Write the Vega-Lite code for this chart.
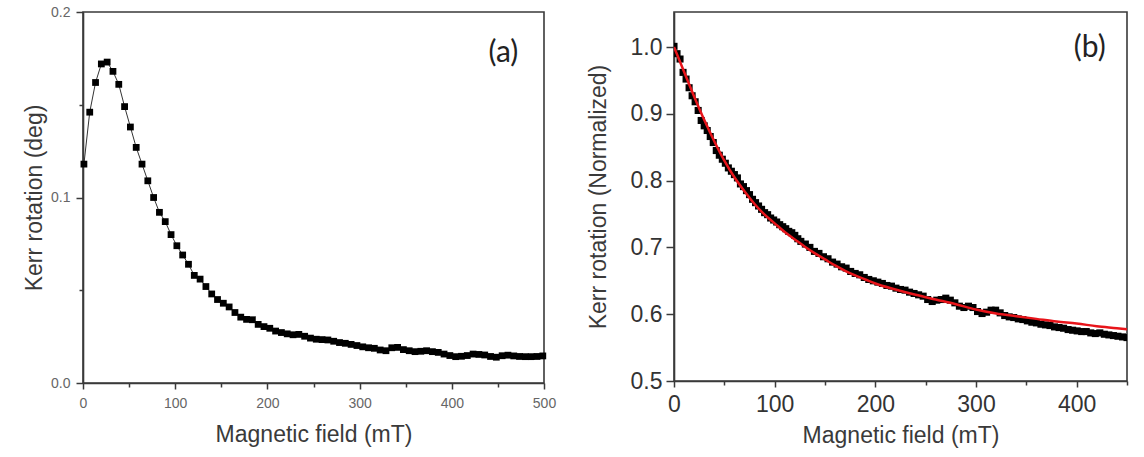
{
  "$schema": "https://vega.github.io/schema/vega-lite/v6.json",
  "padding": {"left": 22, "top": 4, "right": 6, "bottom": 6},
  "background": "white",
  "datasets": {
    "kerr_deg": [
      {"field": 1, "kerr": 0.118}, {"field": 7.3, "kerr": 0.146}, {"field": 13.6, "kerr": 0.162}, {"field": 19.9, "kerr": 0.172},
      {"field": 26.2, "kerr": 0.173}, {"field": 32.5, "kerr": 0.168}, {"field": 38.8, "kerr": 0.161}, {"field": 45.1, "kerr": 0.149},
      {"field": 51.4, "kerr": 0.138}, {"field": 57.7, "kerr": 0.127}, {"field": 64, "kerr": 0.118}, {"field": 70.3, "kerr": 0.109},
      {"field": 76.6, "kerr": 0.1}, {"field": 82.9, "kerr": 0.092}, {"field": 89.2, "kerr": 0.087}, {"field": 95.5, "kerr": 0.08},
      {"field": 101.8, "kerr": 0.074}, {"field": 108.1, "kerr": 0.069}, {"field": 114.4, "kerr": 0.064}, {"field": 120.7, "kerr": 0.058},
      {"field": 127, "kerr": 0.056}, {"field": 133.3, "kerr": 0.052}, {"field": 139.6, "kerr": 0.048}, {"field": 145.9, "kerr": 0.045},
      {"field": 152.2, "kerr": 0.043}, {"field": 158.5, "kerr": 0.041}, {"field": 164.8, "kerr": 0.038}, {"field": 171.1, "kerr": 0.0355},
      {"field": 177.4, "kerr": 0.0343}, {"field": 183.7, "kerr": 0.0341}, {"field": 190, "kerr": 0.0316}, {"field": 196.3, "kerr": 0.0304},
      {"field": 202.6, "kerr": 0.0295}, {"field": 208.9, "kerr": 0.028}, {"field": 215.2, "kerr": 0.0272}, {"field": 221.5, "kerr": 0.0265},
      {"field": 227.8, "kerr": 0.026}, {"field": 234.1, "kerr": 0.0262}, {"field": 240.4, "kerr": 0.0252}, {"field": 246.7, "kerr": 0.0242},
      {"field": 253, "kerr": 0.0236}, {"field": 259.3, "kerr": 0.0234}, {"field": 265.6, "kerr": 0.0232}, {"field": 271.9, "kerr": 0.0225},
      {"field": 278.2, "kerr": 0.0218}, {"field": 284.5, "kerr": 0.0214}, {"field": 290.8, "kerr": 0.0208}, {"field": 297.1, "kerr": 0.0202},
      {"field": 303.4, "kerr": 0.0195}, {"field": 309.7, "kerr": 0.019}, {"field": 316, "kerr": 0.0187}, {"field": 322.3, "kerr": 0.0178},
      {"field": 328.6, "kerr": 0.0174}, {"field": 334.9, "kerr": 0.019}, {"field": 341.2, "kerr": 0.0192}, {"field": 347.5, "kerr": 0.018},
      {"field": 353.8, "kerr": 0.0174}, {"field": 360.1, "kerr": 0.0169}, {"field": 366.4, "kerr": 0.0171}, {"field": 372.7, "kerr": 0.0174},
      {"field": 379, "kerr": 0.0169}, {"field": 385.3, "kerr": 0.0165}, {"field": 391.6, "kerr": 0.0156}, {"field": 397.9, "kerr": 0.0148},
      {"field": 404.2, "kerr": 0.0142}, {"field": 410.5, "kerr": 0.0144}, {"field": 416.8, "kerr": 0.0148}, {"field": 423.1, "kerr": 0.0156},
      {"field": 429.4, "kerr": 0.0154}, {"field": 435.7, "kerr": 0.0151}, {"field": 442, "kerr": 0.0143}, {"field": 448.3, "kerr": 0.0139},
      {"field": 454.6, "kerr": 0.0147}, {"field": 460.9, "kerr": 0.015}, {"field": 467.2, "kerr": 0.0146}, {"field": 473.5, "kerr": 0.0143},
      {"field": 479.8, "kerr": 0.0142}, {"field": 486.1, "kerr": 0.0142}, {"field": 492.4, "kerr": 0.0143}, {"field": 498.7, "kerr": 0.0146}
    ],
    "kerr_norm": [
      {"field": 0, "norm": 1.001}, {"field": 3, "norm": 0.99}, {"field": 6, "norm": 0.982}, {"field": 9, "norm": 0.962},
      {"field": 12, "norm": 0.952}, {"field": 15, "norm": 0.939}, {"field": 18, "norm": 0.927}, {"field": 21, "norm": 0.918},
      {"field": 24, "norm": 0.905}, {"field": 27, "norm": 0.89}, {"field": 30, "norm": 0.882}, {"field": 33, "norm": 0.875},
      {"field": 36, "norm": 0.866}, {"field": 39, "norm": 0.857}, {"field": 42, "norm": 0.845}, {"field": 45, "norm": 0.838},
      {"field": 48, "norm": 0.832}, {"field": 51, "norm": 0.826}, {"field": 54, "norm": 0.819}, {"field": 57, "norm": 0.814},
      {"field": 60, "norm": 0.809}, {"field": 63, "norm": 0.804}, {"field": 66, "norm": 0.795}, {"field": 69, "norm": 0.791},
      {"field": 72, "norm": 0.785}, {"field": 75, "norm": 0.779}, {"field": 78, "norm": 0.772}, {"field": 81, "norm": 0.767},
      {"field": 84, "norm": 0.762}, {"field": 87, "norm": 0.757}, {"field": 90, "norm": 0.752}, {"field": 93, "norm": 0.749},
      {"field": 96, "norm": 0.744}, {"field": 99, "norm": 0.741}, {"field": 102, "norm": 0.738}, {"field": 105, "norm": 0.734},
      {"field": 108, "norm": 0.731}, {"field": 111, "norm": 0.728}, {"field": 114, "norm": 0.724}, {"field": 117, "norm": 0.722},
      {"field": 120, "norm": 0.718}, {"field": 123, "norm": 0.713}, {"field": 126, "norm": 0.709}, {"field": 130.5, "norm": 0.705},
      {"field": 135, "norm": 0.7}, {"field": 139.5, "norm": 0.694},
      {"field": 144, "norm": 0.691}, {"field": 148.5, "norm": 0.686}, {"field": 153, "norm": 0.683}, {"field": 157.5, "norm": 0.678},
      {"field": 162, "norm": 0.675}, {"field": 166.5, "norm": 0.671}, {"field": 171, "norm": 0.669}, {"field": 175.5, "norm": 0.664},
      {"field": 180, "norm": 0.661}, {"field": 184.5, "norm": 0.659}, {"field": 189, "norm": 0.655}, {"field": 193.5, "norm": 0.652},
      {"field": 198, "norm": 0.65}, {"field": 202.5, "norm": 0.648}, {"field": 207, "norm": 0.646}, {"field": 211.5, "norm": 0.643},
      {"field": 216, "norm": 0.642}, {"field": 220.5, "norm": 0.639}, {"field": 225, "norm": 0.637}, {"field": 229.5, "norm": 0.636},
      {"field": 234, "norm": 0.633}, {"field": 238.5, "norm": 0.631}, {"field": 243, "norm": 0.629}, {"field": 247.5, "norm": 0.627},
      {"field": 252, "norm": 0.622}, {"field": 256.5, "norm": 0.619}, {"field": 261, "norm": 0.621}, {"field": 265.5, "norm": 0.622},
      {"field": 270, "norm": 0.624}, {"field": 274.5, "norm": 0.621}, {"field": 279, "norm": 0.617}, {"field": 283.5, "norm": 0.612},
      {"field": 288, "norm": 0.61}, {"field": 292.5, "norm": 0.612}, {"field": 297, "norm": 0.61}, {"field": 301.5, "norm": 0.604},
      {"field": 306, "norm": 0.601}, {"field": 310.5, "norm": 0.603}, {"field": 315, "norm": 0.606}, {"field": 319.5, "norm": 0.606},
      {"field": 324, "norm": 0.602}, {"field": 328.5, "norm": 0.598}, {"field": 333, "norm": 0.596}, {"field": 337.5, "norm": 0.595},
      {"field": 342, "norm": 0.593}, {"field": 346.5, "norm": 0.592}, {"field": 351, "norm": 0.59}, {"field": 355.5, "norm": 0.588},
      {"field": 360, "norm": 0.587}, {"field": 364.5, "norm": 0.585}, {"field": 369, "norm": 0.584}, {"field": 373.5, "norm": 0.583},
      {"field": 378, "norm": 0.581}, {"field": 382.5, "norm": 0.58}, {"field": 387, "norm": 0.579}, {"field": 391.5, "norm": 0.577},
      {"field": 396, "norm": 0.576}, {"field": 400.5, "norm": 0.575}, {"field": 405, "norm": 0.574}, {"field": 409.5, "norm": 0.574},
      {"field": 414, "norm": 0.572}, {"field": 418.5, "norm": 0.571}, {"field": 423, "norm": 0.572}, {"field": 427.5, "norm": 0.57},
      {"field": 432, "norm": 0.569}, {"field": 436.5, "norm": 0.568}, {"field": 441, "norm": 0.567}, {"field": 445.5, "norm": 0.566},
      {"field": 450, "norm": 0.565}
    ],
    "kerr_fit": [
      {"field": 0, "fit": 1.0}, {"field": 10, "fit": 0.963}, {"field": 20, "fit": 0.926}, {"field": 30, "fit": 0.891},
      {"field": 40, "fit": 0.859}, {"field": 50, "fit": 0.83}, {"field": 60, "fit": 0.805}, {"field": 70, "fit": 0.784},
      {"field": 80, "fit": 0.765}, {"field": 90, "fit": 0.749}, {"field": 100, "fit": 0.736}, {"field": 110, "fit": 0.723},
      {"field": 120, "fit": 0.712}, {"field": 130, "fit": 0.701}, {"field": 140, "fit": 0.691}, {"field": 150, "fit": 0.682},
      {"field": 160, "fit": 0.673}, {"field": 170, "fit": 0.665}, {"field": 180, "fit": 0.658}, {"field": 190, "fit": 0.652},
      {"field": 200, "fit": 0.646}, {"field": 220, "fit": 0.637}, {"field": 240, "fit": 0.629}, {"field": 260, "fit": 0.622},
      {"field": 280, "fit": 0.615}, {"field": 300, "fit": 0.607}, {"field": 320, "fit": 0.601}, {"field": 340, "fit": 0.597},
      {"field": 360, "fit": 0.593}, {"field": 380, "fit": 0.589}, {"field": 400, "fit": 0.586}, {"field": 420, "fit": 0.582},
      {"field": 440, "fit": 0.579}, {"field": 450, "fit": 0.5774}
    ]
  },
  "spacing": 130,
  "bounds": "flush",
  "hconcat": [
    {
      "width": 461,
      "height": 371,
      "layer": [
        {
          "data": {"name": "kerr_deg"},
          "mark": {"type": "line", "color": "#333333", "strokeWidth": 1},
          "encoding": {
            "x": {
              "field": "field", "type": "quantitative",
              "scale": {"domain": [0, 500], "nice": false, "zero": false},
              "axis": {
                "title": "Magnetic field (mT)",
                "values": [0, 50, 100, 150, 200, 250, 300, 350, 400, 450, 500],
                "labelExpr": "datum.value % 100 === 0 ? datum.label : ''",
                "tickSize": {"condition": {"test": "datum.value % 100 === 0", "value": 6}, "value": 4},
                "labelFontSize": 14, "labelColor": "#666666", "labelPadding": 7,
                "titleFontSize": 23, "titleColor": "#3a3a3a", "titlePadding": 13
              }
            },
            "y": {
              "field": "kerr", "type": "quantitative",
              "scale": {"domain": [0, 0.2], "nice": false},
              "axis": {
                "title": "Kerr rotation (deg)",
                "values": [0, 0.05, 0.1, 0.15, 0.2],
                "labelExpr": "round(datum.value * 100) % 10 === 0 ? format(datum.value, '.1f') : ''",
                "tickSize": {"condition": {"test": "round(datum.value * 100) % 10 === 0", "value": 7}, "value": 4},
                "labelFontSize": 14, "labelColor": "#666666", "labelPadding": 6,
                "titleFontSize": 23, "titleColor": "#3a3a3a", "titlePadding": 4
              }
            }
          }
        },
        {
          "data": {"name": "kerr_deg"},
          "mark": {"type": "square", "color": "#000000", "opacity": 1, "size": 46},
          "encoding": {
            "x": {"field": "field", "type": "quantitative"},
            "y": {"field": "kerr", "type": "quantitative"}
          }
        },
        {
          "data": {"values": [{"panel": "(a)"}]},
          "mark": {"type": "text", "font": "Lato", "fontSize": 30, "color": "#222222", "align": "center", "baseline": "middle"},
          "encoding": {
            "x": {"datum": 456},
            "y": {"datum": 0.178},
            "text": {"field": "panel"}
          }
        }
      ]
    },
    {
      "width": 453,
      "height": 369,
      "layer": [
        {
          "data": {"name": "kerr_norm"},
          "mark": {"type": "square", "color": "#000000", "opacity": 1, "size": 50, "clip": true},
          "encoding": {
            "x": {
              "field": "field", "type": "quantitative",
              "scale": {"domain": [0, 450], "nice": false, "zero": false},
              "axis": {
                "title": "Magnetic field (mT)",
                "values": [0, 50, 100, 150, 200, 250, 300, 350, 400, 450],
                "labelExpr": "datum.value % 100 === 0 ? datum.label : ''",
                "tickSize": {"condition": {"test": "datum.value % 100 === 0", "value": 6}, "value": 4},
                "labelFontSize": 23, "labelColor": "#333333", "labelPadding": 6,
                "titleFontSize": 23, "titleColor": "#3a3a3a", "titlePadding": 8
              }
            },
            "y": {
              "field": "norm", "type": "quantitative",
              "scale": {"domain": [0.5, 1.0524], "nice": false, "zero": false},
              "axis": {
                "title": "Kerr rotation (Normalized)",
                "values": [0.5, 0.55, 0.6, 0.65, 0.7, 0.75, 0.8, 0.85, 0.9, 0.95, 1.0],
                "labelExpr": "round(datum.value * 100) % 10 === 0 ? format(datum.value, '.1f') : ''",
                "tickSize": {"condition": {"test": "round(datum.value * 100) % 10 === 0", "value": 8}, "value": 5},
                "labelFontSize": 23, "labelColor": "#333333", "labelPadding": 4,
                "titleFontSize": 23, "titleColor": "#3a3a3a", "titlePadding": 20
              }
            }
          }
        },
        {
          "data": {"name": "kerr_fit"},
          "mark": {"type": "line", "color": "#e8141a", "strokeWidth": 2.5, "interpolate": "monotone", "clip": true},
          "encoding": {
            "x": {"field": "field", "type": "quantitative"},
            "y": {"field": "fit", "type": "quantitative"}
          }
        },
        {
          "data": {"values": [{"panel": "(b)"}]},
          "mark": {"type": "text", "font": "Lato", "fontSize": 30, "color": "#222222", "align": "center", "baseline": "middle"},
          "encoding": {
            "x": {"datum": 413},
            "y": {"datum": 0.9985},
            "text": {"field": "panel"}
          }
        }
      ]
    }
  ],
  "config": {
    "view": {"stroke": "#3a3a3a", "strokeWidth": 1.6},
    "axis": {
      "grid": false,
      "domainColor": "#3a3a3a", "domainWidth": 1.6,
      "tickColor": "#3a3a3a", "tickWidth": 1.5,
      "labelFont": "Liberation Sans", "titleFont": "Liberation Sans",
      "titleFontWeight": "normal", "labelFlush": false, "labelOverlap": false
    }
  }
}
